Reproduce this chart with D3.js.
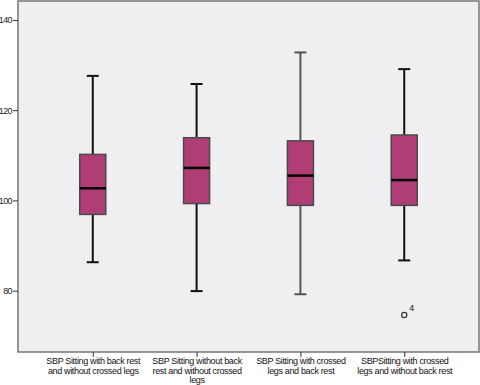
<!DOCTYPE html>
<html>
<head>
<meta charset="utf-8">
<script src="https://cdn.jsdelivr.net/npm/d3@7"></script>
<style>
  body { margin: 0; background: #fff; }
  svg { display: block; font-family: "Liberation Sans", Arial, sans-serif; }
</style>
</head>
<body>
<div id="chart"></div>
<script>
// Chart data
const categories = [
    ['SBP Sitting with back rest', 'and without crossed legs'],
    ['SBP Sitting without back', 'rest and without crossed', 'legs'],
    ['SBP Sitting with crossed', 'legs and back rest'],
    ['SBPSitting with crossed', 'legs and without back rest']
];
const whiskerLow  = [86.3, 79.9, 79.2, 86.7];
const q1          = [96.9, 99.3, 98.9, 98.9];
const medians     = [102.7, 107.2, 105.5, 104.5];
const q3          = [110.2, 113.9, 113.2, 114.5];
const whiskerHigh = [127.6, 125.8, 132.8, 129.1];
const outliers = [{ cat: 3, value: 74.6, label: '4' }];
const yTicks = [80, 100, 120, 140];

const width = 480, height = 385;
const margin = { top: 1, right: 1, bottom: 33, left: 18 };

const svg = d3.select('#chart').append('svg')
    .attr('width', width)
    .attr('height', height);

const x = d3.scalePoint()
    .domain(d3.range(categories.length))
    .range([margin.left, width - margin.right])
    .padding(0.72);

const y = d3.scaleLinear()
    .domain([66.4, 144.2])
    .range([height - margin.bottom, margin.top]);

// plot background + frame
svg.append('rect')
    .attr('x', margin.left)
    .attr('y', margin.top)
    .attr('width', width - margin.left - margin.right)
    .attr('height', height - margin.top - margin.bottom)
    .attr('fill', '#efeff1')
    .attr('stroke', '#777')
    .attr('stroke-width', 1.5);

// y axis
const yAxis = svg.append('g')
    .attr('transform', `translate(${margin.left},0)`)
    .call(d3.axisLeft(y).tickValues(yTicks).tickSize(5).tickPadding(1));
yAxis.select('.domain').remove();
yAxis.selectAll('text')
    .attr('font-size', 9)
    .attr('letter-spacing', -0.6)
    .attr('fill', '#222');
yAxis.selectAll('line').attr('stroke', '#333');

// x axis
const xAxis = svg.append('g')
    .attr('transform', `translate(0,${height - margin.bottom})`)
    .call(d3.axisBottom(x).tickSize(5).tickFormat(''));
xAxis.select('.domain').remove();
xAxis.selectAll('line').attr('stroke', '#333');

xAxis.selectAll('.tick').each(function (d) {
    const t = d3.select(this).append('text')
        .attr('fill', '#111')
        .attr('font-size', 9)
        .attr('letter-spacing', -0.35)
        .attr('text-anchor', 'middle');
    categories[d].forEach((line, i) => {
        t.append('tspan')
            .attr('x', 0)
            .attr('y', 12 + i * 9.5)
            .text(line);
    });
});

const boxW = 26, capW = 12;
const boxes = svg.append('g')
    .selectAll('g')
    .data(d3.range(categories.length))
    .join('g');

// whiskers
boxes.append('line')
    .attr('x1', i => x(i)).attr('x2', i => x(i))
    .attr('y1', i => y(whiskerLow[i])).attr('y2', i => y(whiskerHigh[i]))
    .attr('stroke', i => i === 2 ? '#555' : '#111')
    .attr('stroke-width', 2);
boxes.append('line')
    .attr('x1', i => x(i) - capW / 2).attr('x2', i => x(i) + capW / 2)
    .attr('y1', i => y(whiskerHigh[i])).attr('y2', i => y(whiskerHigh[i]))
    .attr('stroke', i => i === 2 ? '#555' : '#111')
    .attr('stroke-width', 2);
boxes.append('line')
    .attr('x1', i => x(i) - capW / 2).attr('x2', i => x(i) + capW / 2)
    .attr('y1', i => y(whiskerLow[i])).attr('y2', i => y(whiskerLow[i]))
    .attr('stroke', i => i === 2 ? '#555' : '#111')
    .attr('stroke-width', 2);

// boxes
boxes.append('rect')
    .attr('x', i => x(i) - boxW / 2)
    .attr('width', boxW)
    .attr('y', i => y(q3[i]))
    .attr('height', i => y(q1[i]) - y(q3[i]))
    .attr('fill', '#b13d77')
    .attr('stroke', '#4a4a4a')
    .attr('stroke-width', 1.5);

// medians
boxes.append('line')
    .attr('x1', i => x(i) - boxW / 2).attr('x2', i => x(i) + boxW / 2)
    .attr('y1', i => y(medians[i])).attr('y2', i => y(medians[i]))
    .attr('stroke', '#000')
    .attr('stroke-width', 2.5);

// outliers
const out = svg.append('g').selectAll('g').data(outliers).join('g');
out.append('circle')
    .attr('cx', d => x(d.cat))
    .attr('cy', d => y(d.value))
    .attr('r', 2.6)
    .attr('fill', 'none')
    .attr('stroke', '#333')
    .attr('stroke-width', 1.2);
out.append('text')
    .attr('x', d => x(d.cat) + 5)
    .attr('y', d => y(d.value) - 4)
    .attr('font-size', 9)
    .attr('fill', '#111')
    .text(d => d.label);
</script>
</body>
</html>
